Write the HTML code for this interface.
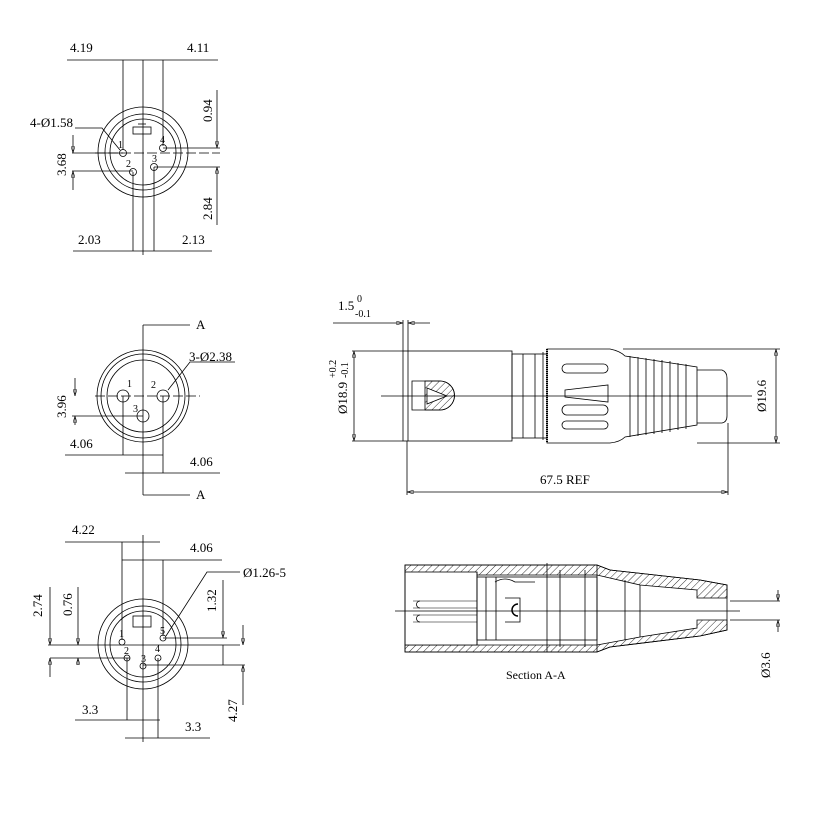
<!DOCTYPE html>
<html><head><meta charset="utf-8"><style>
html,body{margin:0;padding:0;background:#fff}
svg{display:block}
text{font-family:"Liberation Serif",serif;fill:#000}
</style></head><body>
<svg width="817" height="817" viewBox="0 0 817 817" xmlns="http://www.w3.org/2000/svg">
<defs>
<pattern id="h" width="5" height="5" patternUnits="userSpaceOnUse" patternTransform="rotate(45)">
<line x1="0" y1="0" x2="0" y2="5" stroke="#000" stroke-width="0.8"/></pattern>
<marker id="a" viewBox="0 0 10 6" refX="10" refY="3" markerWidth="8" markerHeight="5" orient="auto-start-reverse"><path d="M0,0L10,3L0,6z" fill="none" stroke="#000" stroke-width="0.8"/></marker>
</defs>
<g stroke="#000" stroke-width="0.8" fill="none">
<!-- VIEW 1 -->
<circle cx="143" cy="152" r="45"/><circle cx="143" cy="152" r="38"/><circle cx="143" cy="152" r="33"/>
<rect x="133" y="127" width="18" height="7"/><line x1="138" y1="124" x2="146" y2="124"/>
<circle cx="123" cy="153" r="3.5"/><circle cx="163" cy="148" r="3.5"/><circle cx="133" cy="172" r="3.5"/><circle cx="154" cy="167" r="3.5"/>
<line x1="67" y1="60" x2="218" y2="60"/>
<line x1="123" y1="60" x2="123" y2="150"/><line x1="163" y1="60" x2="163" y2="146"/><line x1="143" y1="60" x2="143" y2="255"/>
<line x1="95" y1="153" x2="220" y2="153" stroke-dasharray="10,3"/>
<line x1="163" y1="148" x2="220" y2="148"/><line x1="154" y1="167" x2="220" y2="167"/>
<line x1="217" y1="90" x2="217" y2="148" marker-end="url(#a)"/><line x1="217" y1="225" x2="217" y2="167" marker-end="url(#a)"/>
<line x1="72" y1="153" x2="123" y2="153"/><line x1="72" y1="171" x2="133" y2="171"/>
<line x1="73" y1="135" x2="73" y2="153" marker-end="url(#a)"/><line x1="73" y1="190" x2="73" y2="171" marker-end="url(#a)"/>
<line x1="73" y1="251" x2="212" y2="251"/>
<line x1="133" y1="172" x2="133" y2="251"/><line x1="154" y1="167" x2="154" y2="251"/>
<path d="M75,128H102L120,150"/>
<!-- VIEW 2 -->
<circle cx="143" cy="396" r="46"/><circle cx="143" cy="396" r="42"/><circle cx="143" cy="396" r="36"/>
<circle cx="123" cy="396" r="6"/><circle cx="163" cy="396" r="6"/><circle cx="143" cy="416" r="6"/>
<line x1="143" y1="325" x2="143" y2="495"/><line x1="143" y1="325" x2="190" y2="325"/><line x1="143" y1="495" x2="190" y2="495"/>
<line x1="95" y1="396" x2="200" y2="396" stroke-dasharray="10,3"/>
<line x1="72" y1="416" x2="143" y2="416"/>
<line x1="75" y1="378" x2="75" y2="396" marker-end="url(#a)"/><line x1="75" y1="425" x2="75" y2="416" marker-end="url(#a)"/>
<line x1="123" y1="396" x2="123" y2="455"/><line x1="163" y1="396" x2="163" y2="473"/>
<line x1="65" y1="455" x2="163" y2="455"/><line x1="125" y1="473" x2="220" y2="473"/>
<path d="M235,362H190L168,390"/>
<!-- VIEW 3 -->
<circle cx="143" cy="644" r="45"/><circle cx="143" cy="644" r="38"/><circle cx="143" cy="644" r="33"/>
<rect x="133" y="616" width="18" height="11"/>
<circle cx="122" cy="642" r="3"/><circle cx="163" cy="638" r="3"/><circle cx="127" cy="658" r="3"/><circle cx="158" cy="658" r="3"/><circle cx="143" cy="666" r="3"/>
<line x1="65" y1="542" x2="160" y2="542"/><line x1="122" y1="560" x2="222" y2="560"/>
<line x1="122" y1="542" x2="122" y2="640"/><line x1="163" y1="560" x2="163" y2="636"/><line x1="143" y1="535" x2="143" y2="742"/>
<line x1="48" y1="645" x2="240" y2="645"/><line x1="50" y1="658" x2="130" y2="658"/>
<line x1="50" y1="587" x2="50" y2="645" marker-end="url(#a)"/><line x1="50" y1="677" x2="50" y2="658" marker-end="url(#a)"/>
<line x1="78" y1="587" x2="78" y2="645" marker-end="url(#a)"/><line x1="78" y1="665" x2="78" y2="658" marker-end="url(#a)"/>
<line x1="163" y1="638" x2="227" y2="638"/><line x1="143" y1="665" x2="245" y2="665"/>
<line x1="223" y1="580" x2="223" y2="638" marker-end="url(#a)"/><line x1="223" y1="665" x2="223" y2="645"/>
<line x1="243" y1="625" x2="243" y2="645" marker-end="url(#a)"/><line x1="243" y1="705" x2="243" y2="665" marker-end="url(#a)"/>
<line x1="127" y1="658" x2="127" y2="720"/><line x1="158" y1="658" x2="158" y2="738"/>
<line x1="75" y1="720" x2="160" y2="720"/><line x1="125" y1="738" x2="210" y2="738"/>
<path d="M240,572H207L166,636"/>
<!-- SIDE VIEW -->
<rect x="403" y="351" width="109" height="90"/><line x1="408" y1="351" x2="408" y2="441"/>
<rect x="512" y="354" width="35" height="84"/><line x1="523" y1="354" x2="523" y2="438"/><line x1="535" y1="354" x2="535" y2="438"/><line x1="543" y1="352" x2="543" y2="440"/>
<path d="M547,349H610Q620,351 625,356L697,367L697,425L625,437Q620,442 610,443H547Z"/>
<line x1="547" y1="349" x2="547" y2="443" stroke-dasharray="1,1" stroke-width="2"/>
<path d="M630,356V437M638,357V436M646,358V435M654,359V434M662,360V433M670,361V432M678,363V430M686,364V429"/>
<path d="M697,370H722Q727,372 727,378V416Q727,422 722,423H697"/>
<rect x="562" y="364" width="46" height="9" rx="4.5"/><path d="M565,390L608,385L608,402L565,397Z"/>
<rect x="562" y="405" width="46" height="10" rx="5"/><rect x="562" y="421" width="46" height="8" rx="4"/>
<path d="M412,381H440A14.5,14.5 0 0 1 440,410H412Z"/>
<path d="M425,381H440A14.5,14.5 0 0 1 440,410H425Z" fill="url(#h)"/>
<path d="M427,388L447,396L427,404Z" fill="#fff"/>
<line x1="381" y1="396" x2="752" y2="396"/>
<line x1="352" y1="351" x2="403" y2="351"/><line x1="352" y1="441" x2="403" y2="441"/>
<line x1="354" y1="396" x2="354" y2="351" marker-end="url(#a)"/><line x1="354" y1="396" x2="354" y2="441" marker-end="url(#a)"/>
<line x1="623" y1="349" x2="780" y2="349"/><line x1="697" y1="443" x2="780" y2="443"/>
<line x1="776" y1="396" x2="776" y2="349" marker-end="url(#a)"/><line x1="776" y1="396" x2="776" y2="443" marker-end="url(#a)"/>
<line x1="407" y1="441" x2="407" y2="495"/><line x1="728" y1="423" x2="728" y2="495"/>
<line x1="568" y1="492" x2="407" y2="492" marker-end="url(#a)"/><line x1="568" y1="492" x2="728" y2="492" marker-end="url(#a)"/>
<line x1="333" y1="323" x2="403" y2="323" marker-end="url(#a)"/><line x1="430" y1="323" x2="408" y2="323" marker-end="url(#a)"/>
<line x1="403" y1="320" x2="403" y2="351"/><line x1="408" y1="320" x2="408" y2="351"/>
<!-- SECTION -->
<path d="M405,565H597L610,570L700,580L727,585V598H697V590L640,585L597,575H405Z" fill="url(#h)"/>
<path d="M405,652H597L610,647L700,636L727,630V620H697V628L640,637L597,645H405Z" fill="url(#h)"/>
<rect x="405" y="572" width="72" height="73" fill="#fff"/>
<rect x="477" y="577" width="120" height="63" fill="#fff"/>
<path d="M405,565H597L610,570L700,580L727,585V630L700,636L610,647L597,652H405Z"/>
<line x1="477" y1="572" x2="477" y2="645"/><line x1="547" y1="563" x2="547" y2="652"/><line x1="597" y1="565" x2="597" y2="652"/>
<path d="M486,577V640M496,577V640M560,570V647M585,570V647M625,580V640M640,585L640,637"/>
<path d="M413,601H477M413,608H477M413,615H477M413,622H477" stroke-width="0.6"/>
<path d="M420,601A3.5,3.5 0 0 0 420,608M420,615A3.5,3.5 0 0 0 420,622"/>
<path d="M505,598H520V622H505" /><path d="M518,604A6,6 0 0 0 518,616" stroke-width="1.5"/>
<path d="M495,582Q505,576 515,582H535"/>
<line x1="395" y1="611" x2="740" y2="611"/>
<line x1="730" y1="601" x2="780" y2="601"/><line x1="730" y1="620" x2="780" y2="620"/>
<line x1="778" y1="590" x2="778" y2="601" marker-end="url(#a)"/><line x1="778" y1="632" x2="778" y2="620" marker-end="url(#a)"/>
</g>
<g font-size="13">
<text x="70" y="52">4.19</text><text x="187" y="52">4.11</text>
<text x="30" y="127">4-Ø1.58</text>
<text transform="translate(212,122) rotate(-90)">0.94</text>
<text transform="translate(212,220) rotate(-90)">2.84</text>
<text transform="translate(66,176) rotate(-90)">3.68</text>
<text x="78" y="244">2.03</text><text x="182" y="244">2.13</text>
<text x="196" y="329">A</text><text x="196" y="499">A</text>
<text x="189" y="361">3-Ø2.38</text>
<text transform="translate(66,418) rotate(-90)">3.96</text>
<text x="70" y="448">4.06</text><text x="190" y="466">4.06</text>
<text x="72" y="534">4.22</text><text x="190" y="552">4.06</text>
<text x="243" y="577">Ø1.26-5</text>
<text transform="translate(42,617) rotate(-90)">2.74</text>
<text transform="translate(72,616) rotate(-90)">0.76</text>
<text transform="translate(216,612) rotate(-90)">1.32</text>
<text transform="translate(237,722) rotate(-90)">4.27</text>
<text x="82" y="714">3.3</text><text x="185" y="731">3.3</text>
<text x="338" y="310">1.5</text>
<text transform="translate(347,414) rotate(-90)">Ø18.9</text>
<text transform="translate(766,412) rotate(-90)">Ø19.6</text>
<text x="540" y="484">67.5 REF</text>
<text transform="translate(770,678) rotate(-90)">Ø3.6</text>
<text x="506" y="679" font-size="12">Section A-A</text>
</g>
<g font-size="10">
<text x="357" y="302">0</text><text x="355" y="317">-0.1</text>
<text transform="translate(336,378) rotate(-90)">+0.2</text>
<text transform="translate(348,378) rotate(-90)">-0.1</text>
<text x="118" y="148">1</text><text x="160" y="143">4</text><text x="126" y="167">2</text><text x="152" y="162">3</text>
<text x="127" y="387">1</text><text x="151" y="388">2</text><text x="133" y="412">3</text>
<text x="119" y="637">1</text><text x="160" y="634">5</text><text x="124" y="654">2</text><text x="155" y="652">4</text><text x="141" y="662">3</text>
</g>
</svg>
</body></html>
